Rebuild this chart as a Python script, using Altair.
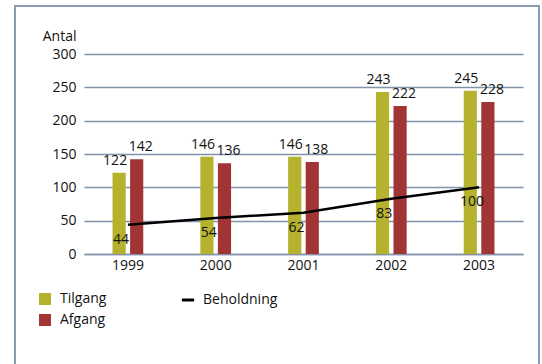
import altair as alt
import pandas as pd

# Values per year
years = ["1999", "2000", "2001", "2002", "2003"]
tilgang = [122, 146, 146, 243, 245]
afgang = [142, 136, 138, 222, 228]
beholdning = [44, 54, 62, 83, 100]
y_ticks = [0, 50, 100, 150, 200, 250, 300]

series = ["Tilgang", "Afgang"]
bar_colors = ["#b5b22e", "#a13535"]
grid_color = "#8292aa"
frame_color = "#8a9ab0"
font = "Open Sans"

bars_df = pd.DataFrame(
    {
        "year": years * 2,
        "serie": ["Tilgang"] * len(years) + ["Afgang"] * len(years),
        "value": tilgang + afgang,
    }
)
stock_df = pd.DataFrame(
    {"year": years, "value": beholdning, "navn": ["Beholdning"] * len(years)}
)

x_enc = alt.X(
    "year:N",
    sort=years,
    scale=alt.Scale(paddingInner=0.65, paddingOuter=0.325),
    axis=alt.Axis(
        title=None,
        labelAngle=0,
        ticks=False,
        domain=True,
        domainColor=grid_color,
        domainWidth=1.5,
        labelPadding=4,
        labelFontSize=14,
        labelFont=font,
        labelColor="#111111",
    ),
)
y_enc = alt.Y(
    "value:Q",
    scale=alt.Scale(domain=[0, 300], nice=False),
    axis=alt.Axis(
        values=y_ticks,
        tickCount=7,
        grid=True,
        gridColor=grid_color,
        gridWidth=1.3,
        domain=False,
        ticks=False,
        labelOverlap=False,
        labelPadding=8,
        labelFontSize=14,
        labelFont=font,
        labelColor="#111111",
        title="Antal",
        titleAngle=0,
        titleAlign="right",
        titleBaseline="middle",
        titleX=-8,
        titleY=-18,
        titleFontSize=14,
        titleFont=font,
        titleFontWeight="normal",
        titleColor="#111111",
    ),
)
x_off = alt.XOffset(
    "serie:N", sort=series, scale=alt.Scale(domain=series, paddingInner=0.25, paddingOuter=0)
)

bars = alt.Chart(bars_df).mark_bar().encode(
    x=x_enc,
    xOffset=x_off,
    y=y_enc,
    color=alt.Color(
        "serie:N",
        sort=series,
        scale=alt.Scale(domain=series, range=bar_colors),
        legend=alt.Legend(
            title=None,
            orient="none",
            legendX=-46,
            legendY=238,
            padding=0,
            symbolType="square",
            symbolSize=144,
            symbolStrokeWidth=0,
            labelFontSize=14,
            labelFont=font,
            labelColor="#111111",
            labelOffset=8,
            rowPadding=7,
        ),
    ),
)

label_common = dict(baseline="bottom", fontSize=14, font=font, color="#111111", dy=-5)
tilgang_labels = (
    alt.Chart(bars_df)
    .transform_filter(alt.datum.serie == "Tilgang")
    .mark_text(dx=-4, **label_common)
    .encode(x=x_enc, xOffset=x_off, y=y_enc, text="value:Q")
)
afgang_labels = (
    alt.Chart(bars_df)
    .transform_filter(alt.datum.serie == "Afgang")
    .mark_text(dx=4, **label_common)
    .encode(x=x_enc, xOffset=x_off, y=y_enc, text="value:Q")
)

line = alt.Chart(stock_df).mark_line(strokeWidth=2.5).encode(
    x=x_enc,
    y=y_enc,
    stroke=alt.Stroke(
        "navn:N",
        scale=alt.Scale(domain=["Beholdning"], range=["#000000"]),
        legend=alt.Legend(
            title=None,
            orient="none",
            legendX=96,
            legendY=238,
            padding=0,
            symbolType="stroke",
            symbolSize=150,
            symbolStrokeWidth=3,
            labelFontSize=14,
            labelFont=font,
            labelColor="#111111",
            labelOffset=7,
        ),
    ),
)
line_labels = alt.Chart(stock_df).mark_text(
    fontSize=14, font=font, color="#111111", dx=-7, dy=15, baseline="middle"
).encode(x=x_enc, y=y_enc, text="value:Q")

# Outer border around the whole figure
frame = alt.Chart(pd.DataFrame({"k": [0]})).mark_rect(
    filled=False, stroke=frame_color, strokeWidth=2
).encode(
    x=alt.value(-69), x2=alt.value(455), y=alt.value(-48), y2=alt.value(330)
)

chart = (
    alt.layer(frame, bars, tilgang_labels, afgang_labels, line, line_labels)
    .properties(
        width=439,
        height=200,
        padding={"left": 84, "top": 54, "right": 19, "bottom": 110},
        autosize=alt.AutoSizeParams(type="none"),
    )
    .configure_view(strokeWidth=0)
)

chart.save("out.html", embed_options={"renderer": "svg", "actions": False})
